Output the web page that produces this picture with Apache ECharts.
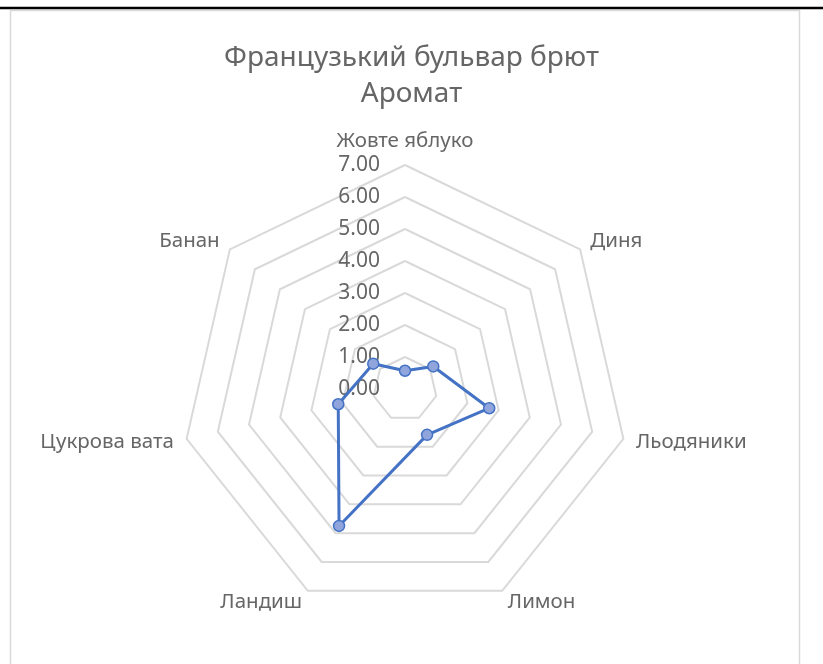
<!DOCTYPE html>
<html>
<head>
<meta charset="utf-8">
<script src="https://cdn.jsdelivr.net/npm/echarts@6/dist/echarts.min.js"></script>
<style>
html,body{margin:0;padding:0;background:#fff;}
#c{width:823px;height:664px;}
</style>
</head>
<body>
<div id="c"></div>
<script>
const titleLines = ['Французький бульвар брют', 'Аромат'];
const categories = ['Жовте яблуко', 'Диня', 'Льодяники', 'Лимон', 'Ландиш', 'Цукрова вата', 'Банан'];
const values = [0.57, 1.13, 2.70, 1.59, 4.75, 2.14, 1.27];
const axisMin = 0;
const axisMax = 7;
const axisSplits = 7;

const FONT = '"Noto Sans", "Open Sans", sans-serif';
const chart = echarts.init(document.getElementById('c'), null, {renderer: 'canvas'});

// ECharts lays radar axes out counter-clockwise; the reference runs clockwise,
// so keep the first axis on top and reverse the order of the rest.
const order = [0].concat(categories.map((_, i) => i).slice(1).reverse());
const indicators = order.map((idx, k) => ({
  name: categories[idx],
  min: axisMin,
  max: axisMax,
  axisLabel: {show: k === 0}
}));
const orderedValues = order.map(idx => values[idx]);

chart.setOption({
  animation: false,
  backgroundColor: '#ffffff',
  title: {
    text: titleLines.join('\n'),
    left: 'center',
    top: 35,
    textStyle: {
      fontFamily: FONT,
      fontSize: 28,
      fontWeight: 'normal',
      color: '#666666',
      lineHeight: 36
    }
  },
  graphic: [
    {type: 'rect', shape: {x: 10.5, y: 10.5, width: 789, height: 700}, style: {fill: 'none', stroke: '#d9d9d9', lineWidth: 1.5}, z: -1},
    {type: 'line', shape: {x1: 0, y1: 8, x2: 823, y2: 8}, style: {stroke: '#000', lineWidth: 2.5}}
  ],
  radar: {
    center: [405, 389],
    radius: 224,
    startAngle: 90,
    shape: 'polygon',
    splitNumber: axisSplits,
    indicator: indicators,
    axisName: {
      color: '#666666',
      fontFamily: FONT,
      fontSize: 20.5
    },
    nameGap: 13,
    axisLine: {show: false},
    axisTick: {show: false},
    axisLabel: {
      show: false,
      color: '#666666',
      fontFamily: FONT,
      fontSize: 21,
      margin: 25,
      formatter: function (v) { return Number(v).toFixed(2); }
    },
    splitLine: {lineStyle: {color: '#d9d9d9', width: 2}},
    splitArea: {show: false}
  },
  series: [{
    type: 'radar',
    symbol: 'circle',
    symbolSize: 11,
    lineStyle: {color: '#4472C4', width: 3},
    itemStyle: {color: '#8FA5DC', borderColor: '#4472C4', borderWidth: 1.5},
    data: [{value: orderedValues, name: 'Аромат'}]
  }]
});
</script>
</body>
</html>
